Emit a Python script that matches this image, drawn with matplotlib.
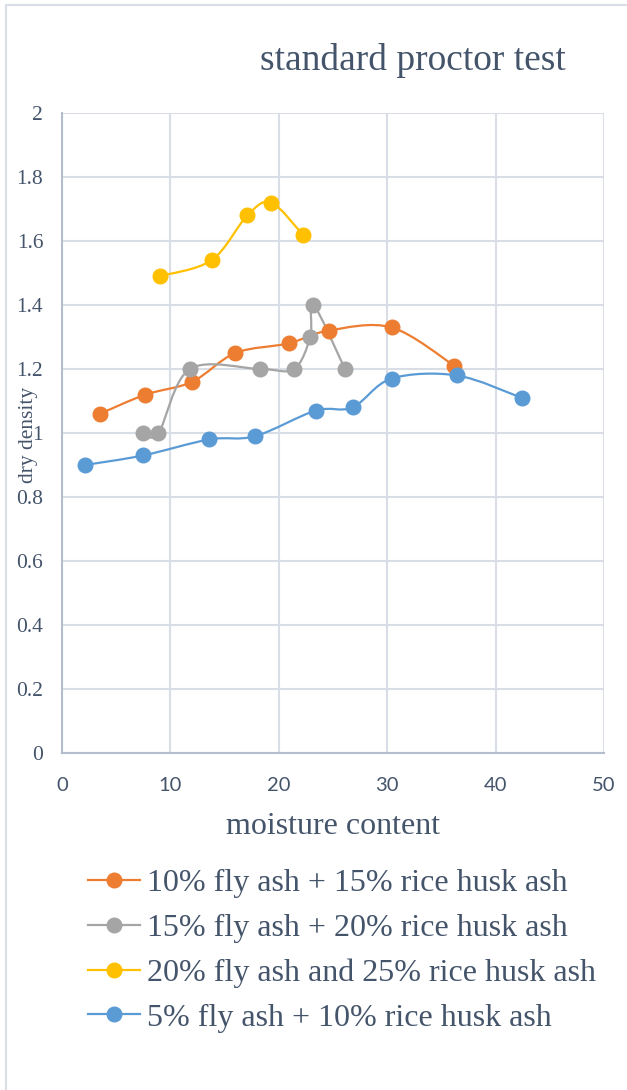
import numpy as np
import matplotlib
matplotlib.use("Agg")
import matplotlib.pyplot as plt
from matplotlib.path import Path
from matplotlib.patches import PathPatch, Rectangle
from matplotlib.lines import Line2D

# moisture content (%) and dry density for each mix
mix_a_label = "10% fly ash + 15% rice husk ash"
mix_a_x = [3.5, 7.7, 12.0, 16.0, 20.9, 24.6, 30.4, 36.2]
mix_a_y = [1.06, 1.12, 1.16, 1.25, 1.28, 1.32, 1.33, 1.21]

mix_b_label = "15% fly ash + 20% rice husk ash"
mix_b_x = [7.5, 8.9, 11.8, 18.3, 21.4, 22.9, 23.2, 26.1]
mix_b_y = [1.00, 1.00, 1.20, 1.20, 1.20, 1.30, 1.40, 1.20]

mix_c_label = "20% fly ash and 25% rice husk ash"
mix_c_x = [9.0, 13.8, 17.1, 19.3, 22.2]
mix_c_y = [1.49, 1.54, 1.68, 1.72, 1.62]

mix_d_label = "5% fly ash + 10% rice husk ash"
mix_d_x = [2.1, 7.5, 13.6, 17.8, 23.4, 26.8, 30.4, 36.4, 42.4]
mix_d_y = [0.90, 0.93, 0.98, 0.99, 1.07, 1.08, 1.17, 1.18, 1.11]

series = [
    (mix_a_label, mix_a_x, mix_a_y, "#ED7D31"),
    (mix_b_label, mix_b_x, mix_b_y, "#A5A5A5"),
    (mix_c_label, mix_c_x, mix_c_y, "#FFC000"),
    (mix_d_label, mix_d_x, mix_d_y, "#5B9BD5"),
]

x_ticks = [0, 10, 20, 30, 40, 50]
y_ticks = [0, 0.2, 0.4, 0.6, 0.8, 1.0, 1.2, 1.4, 1.6, 1.8, 2.0]
y_tick_labels = ["0", "0.2", "0.4", "0.6", "0.8", "1", "1.2", "1.4", "1.6", "1.8", "2"]

TEXT = "#44546A"
GRID = "#D9DEE6"
SPINE = "#B4BDCB"
SERIF = "Liberation Serif"
SANS = "Lato"


def smooth_path(xs, ys):
    """Cubic Bezier path through the points (Catmull-Rom style tangents)."""
    pts = np.column_stack([xs, ys]).astype(float)
    n = len(pts)
    verts = [pts[0]]
    codes = [Path.MOVETO]
    for i in range(n - 1):
        p0 = pts[i - 1] if i > 0 else pts[i]
        p1 = pts[i]
        p2 = pts[i + 1]
        p3 = pts[i + 2] if i + 2 < n else pts[i + 1]
        c1 = p1 + (p2 - p0) / 6.0
        c2 = p2 - (p3 - p1) / 6.0
        verts.extend([c1, c2, p2])
        codes.extend([Path.CURVE4] * 3)
    return Path(verts, codes)


W, H = 627, 1090
fig = plt.figure(figsize=(W / 100, H / 100), dpi=100)
fig.patch.set_facecolor("white")

# outer chart border
fig.add_artist(Rectangle((6 / W, -0.01), 1.05, 1 - 5 / H + 0.01,
                         transform=fig.transFigure, fill=False,
                         edgecolor=GRID, linewidth=1.5))

ax = fig.add_axes([62 / W, 1 - 753 / H, (604 - 62) / W, (753 - 113) / H])
ax.set_xlim(0, 50)
ax.set_ylim(0, 2)
ax.set_xticks(x_ticks)
ax.set_yticks(y_ticks)
ax.set_yticklabels(y_tick_labels)
ax.grid(True, color=GRID, linewidth=1.5)
ax.set_axisbelow(True)
for side in ["top", "right"]:
    ax.spines[side].set_visible(False)
for side in ["left", "bottom"]:
    ax.spines[side].set_color(SPINE)
    ax.spines[side].set_linewidth(1.5)
ax.tick_params(length=0)
ax.tick_params(axis="x", pad=17.5, labelsize=14.5, labelcolor=TEXT)
ax.tick_params(axis="y", pad=13.5, labelsize=15.5, labelcolor=TEXT)
for lab in ax.get_xticklabels():
    lab.set_fontfamily(SANS)
for lab in ax.get_yticklabels():
    lab.set_fontfamily(SERIF)

handles = []
for label, xs, ys, color in series:
    ax.add_patch(PathPatch(smooth_path(xs, ys), facecolor="none",
                           edgecolor=color, linewidth=1.6, zorder=3))
    ax.plot(xs, ys, linestyle="none", marker="o", markersize=10.5,
            color=color, zorder=4)
    handles.append(Line2D([], [], color=color, linewidth=1.6, marker="o",
                          markersize=10.5, label=label))

fig.text(413 / W, 1 - 61 / H, "standard proctor test", ha="center",
         va="center", fontsize=27, family=SERIF, color=TEXT)
fig.text(29 / W, 1 - 435 / H, "dry density", ha="center", va="center",
         rotation=90, fontsize=15.5, family=SERIF, color=TEXT)
fig.text(333 / W, 1 - 826 / H, "moisture content", ha="center",
         va="center", fontsize=23, family=SERIF, color=TEXT)

leg = fig.legend(handles=handles, loc="upper left",
                 bbox_to_anchor=(88 / W, 1 - 869 / H), frameon=False,
                 prop={"family": SERIF, "size": 23}, handlelength=1.63,
                 handletextpad=0.22, labelspacing=0.48, borderpad=0,
                 borderaxespad=0)
for t in leg.get_texts():
    t.set_color(TEXT)

fig.savefig("out.png", dpi=100)
